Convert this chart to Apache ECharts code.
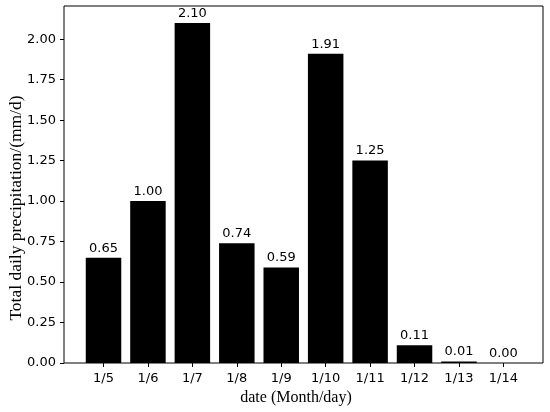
<!DOCTYPE html>
<html><head><meta charset="utf-8">
<script src="https://cdn.jsdelivr.net/npm/echarts@6/dist/echarts.min.js"></script>
<style>html,body{margin:0;padding:0;background:#fff}#c{width:550px;height:412px}</style>
</head><body><div id="c"></div>
<script>
const categories = ['1/5','1/6','1/7','1/8','1/9','1/10','1/11','1/12','1/13','1/14'];
const precipitation = [0.65, 1.00, 2.10, 0.74, 0.59, 1.91, 1.25, 0.11, 0.01, 0.00];
const yTicks = [0, 0.25, 0.5, 0.75, 1.0, 1.25, 1.5, 1.75, 2.0];
const yMax = 2.205;
const xTitle = 'date (Month/day)';
const yTitle = 'Total daily precipitation/(mm/d)';

const chart = echarts.init(document.getElementById('c'), null, {renderer: 'canvas'});
const tickFont = {fontFamily: 'DejaVu Sans', fontSize: 13, color: '#000'};
chart.setOption({
  animation: false,
  backgroundColor: '#fff',
  grid: [
    {left: 64, right: 7, top: 6, bottom: 49, outerBoundsMode: 'none', containLabel: false,
     show: true, borderColor: '#000', borderWidth: 1, backgroundColor: 'transparent'},
    {left: 81.3, right: 24.4, top: 6, bottom: 49, outerBoundsMode: 'none', containLabel: false}
  ],
  graphic: [
    {type: 'text', x: 296, y: 398, silent: true,
     style: {text: xTitle, font: '16px "Liberation Serif"', fill: '#000', align: 'center', verticalAlign: 'middle'}},
    {type: 'text', x: 16, y: 208, rotation: Math.PI / 2, silent: true,
     style: {text: yTitle, font: '17.5px "Liberation Serif"', fill: '#000', align: 'center', verticalAlign: 'middle'}}
  ],
  xAxis: [
    {gridIndex: 0, type: 'value', min: 0, max: 1, show: false},
    {gridIndex: 1, type: 'category', data: categories,
     axisLine: {show: false},
     axisTick: {show: true, alignWithLabel: true, length: 4, lineStyle: {color: '#000', width: 1}},
     axisLabel: Object.assign({margin: 9}, tickFont)}
  ],
  yAxis: [
    {gridIndex: 0, type: 'value', min: 0, max: yMax,
     axisLine: {show: false}, splitLine: {show: false},
     axisTick: {show: true, length: 4, customValues: yTicks, lineStyle: {color: '#000', width: 1}},
     axisLabel: Object.assign({margin: 8, customValues: yTicks, formatter: v => v.toFixed(2)}, tickFont)},
    {gridIndex: 1, type: 'value', min: 0, max: yMax, show: false}
  ],
  series: [{
    type: 'bar', xAxisIndex: 1, yAxisIndex: 1,
    data: precipitation, barWidth: 35.5,
    itemStyle: {color: '#000'},
    label: {show: true, position: 'top', distance: 3, fontFamily: 'DejaVu Sans', fontSize: 13, color: '#000',
            formatter: p => p.value.toFixed(2)}
  }]
});
</script></body></html>
